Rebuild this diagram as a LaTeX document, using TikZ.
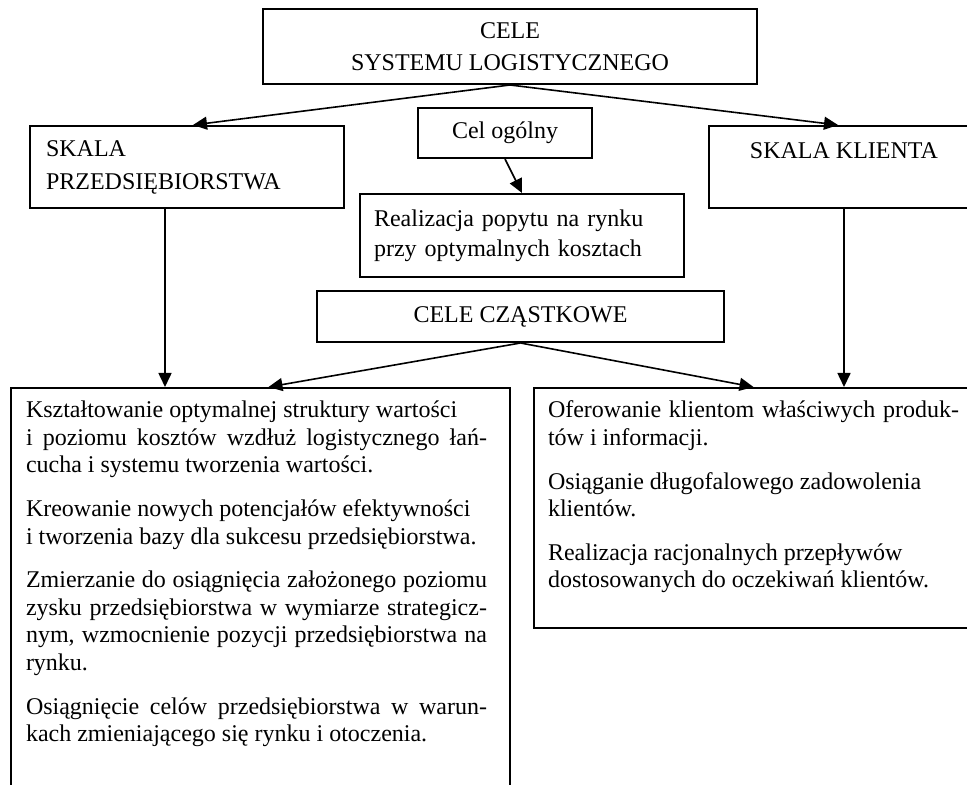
\documentclass[tikz,border=0pt]{standalone}
\usepackage{fontspec}
\setmainfont{Liberation Serif}
\usetikzlibrary{arrows.meta}

\tikzset{
  ramka/.style={draw, line width=1pt, anchor=north west, inner sep=0pt, font=\fontsize{12}{16}\selectfont},
  opis/.style={ramka, inner xsep=7.5pt, inner ysep=6.5pt, font=\fontsize{12}{13.8}\selectfont},
  strz/.style={-{Triangle[length=7pt,width=6.5pt]}, line width=0.8pt},
}

\begin{document}
\begin{tikzpicture}[x=0.5pt,y=-0.5pt]
        \useasboundingbox (0,0) rectangle (967,785);
        \clip (0,0) rectangle (967,785);
        % gorny poziom
        \node[ramka, minimum width=247pt, minimum height=37.5pt, align=center] (cele) at (262,8) {CELE\\SYSTEMU LOGISTYCZNEGO};
        \node[ramka, minimum width=157pt, minimum height=41pt, text width=141pt, inner xsep=8pt, align=left, font=\fontsize{12}{16.5}\selectfont] (skalap) at (29,125) {SKALA\\PRZEDSIĘBIORSTWA};
        \node[ramka, minimum width=135pt, minimum height=41pt, align=center, font=\fontsize{12}{16.5}\selectfont] (skalak) at (708,125) {SKALA KLIENTA\\\mbox{}};
        % cel ogolny
        \node[ramka, minimum width=87pt, minimum height=25pt] (ogolny) at (417,107) {Cel ogólny};
        \node[ramka, minimum width=162pt, minimum height=41.5pt, text width=148pt, inner xsep=7pt, align=left, font=\fontsize{12}{15}\selectfont] (popyt) at (359,193) {Realizacja popytu na rynku\\przy optymalnych kosztach};
        \node[ramka, minimum width=203.5pt, minimum height=25.5pt] (czastkowe) at (316,290) {CELE CZĄSTKOWE};
        % cele czastkowe
        \node[opis] (lewy) at (10,387) {\parbox[t][230pt][t]{234.5pt}{\setlength{\parskip}{8pt}\rightskip=4pt
          Kształtowanie optymalnej struktury wartości\\
          i~poziomu kosztów wzdłuż logistycznego łań-\linebreak
          cucha i systemu tworzenia wartości.\par
          Kreowanie nowych potencjałów efektywności\\
          i~tworzenia bazy dla sukcesu przedsiębiorstwa.\par
          Zmierzanie do osiągnięcia założonego poziomu\linebreak
          zysku przedsiębiorstwa w wymiarze strategicz-\linebreak
          nym, wzmocnienie pozycji przedsiębiorstwa na\linebreak
          rynku.\par
          Osiągnięcie celów przedsiębiorstwa w warun-\linebreak
          kach zmieniającego się rynku i otoczenia.}};
        \node[opis, inner xsep=7pt] (prawy) at (533,387) {\parbox[t][107pt][t]{205.5pt}{\setlength{\parskip}{8pt}%
          Oferowanie klientom właściwych produk-\linebreak
          tów i~informacji.\par
          Osiąganie długofalowego zadowolenia\\
          klientów.\par
          Realizacja racjonalnych przepływów\\
          dostosowanych do oczekiwań klientów.}};
        % strzalki
        \draw[strz] (cele.south) -- ([xshift=3pt]skalap.north);
        \draw[strz] (cele.south) -- ([xshift=-3pt]skalak.north);
        \draw[strz] (ogolny.south) -- (popyt.north);
        \draw[strz] ([xshift=-11pt]skalap.south) -- ([xshift=-11pt]skalap.south |- lewy.north);
        \draw[strz] (skalak.south) -- (skalak.south |- prawy.north);
        \draw[strz] (czastkowe.south) -- ([xshift=4pt]lewy.north);
        \draw[strz] (czastkowe.south) -- (prawy.north);
\end{tikzpicture}
\end{document}
